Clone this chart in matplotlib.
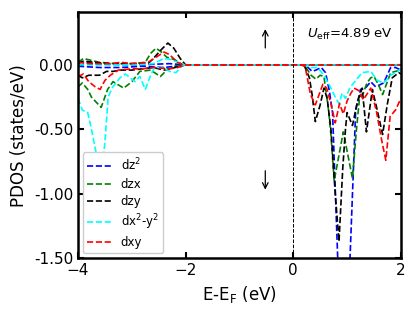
import matplotlib
matplotlib.use("Agg")
import matplotlib.pyplot as plt

# ---- spin-up channel (positive) ----
dz2_up_e = [-4.0, -3.9, -3.7, -3.4, -3.0, -2.6, -2.3, -2.0, 2.0]
dz2_up = [0.03, 0.02, 0.01, 0.005, 0.0, 0.005, 0.01, 0.0, 0.0]
dzx_up_e = [-4.0, -3.9, -3.8, -3.6, -3.3, -3.0, -2.75, -2.65, -2.55, -2.45, -2.35, -2.2, -2.05, 2.0]
dzx_up = [0.02, 0.05, 0.04, 0.02, 0.01, 0.01, 0.02, 0.09, 0.13, 0.10, 0.06, 0.04, 0.0, 0.0]
dzy_up_e = [-4.0, -3.9, -3.7, -3.4, -3.0, -2.7, -2.6, -2.45, -2.33, -2.22, -2.1, -2.0, 2.0]
dzy_up = [0.01, 0.03, 0.02, 0.01, 0.01, 0.01, 0.05, 0.12, 0.17, 0.13, 0.05, 0.0, 0.0]
dx2_up_e = [-4.0, -3.5, -3.0, -2.6, -2.4, -2.25, -2.1, -2.0, 2.0]
dx2_up = [0.0, 0.0, 0.0, 0.01, 0.05, 0.04, 0.01, 0.0, 0.0]
dxy_up_e = [-4.0, -3.8, -3.4, -3.2, -3.0, -2.7, -2.55, -2.4, -2.3, -2.15, -2.05, 2.0]
dxy_up = [0.02, 0.01, 0.01, 0.02, 0.01, 0.02, 0.06, 0.10, 0.08, 0.02, 0.0, 0.0]

# ---- spin-down channel (negative) ----
dz2_dn_e = [-4.0, -3.6, -3.2, -2.8, -2.4, -2.0, 0.2, 0.25, 0.35, 0.42, 0.52, 0.6, 0.67, 0.73,
            0.83, 0.95, 1.05, 1.16, 1.25, 1.34, 1.44, 1.53, 1.68, 1.81, 1.9, 2.0]
dz2_dn = [-0.01, -0.02, -0.02, -0.01, -0.02, 0.0, 0.0, -0.01, -0.05, -0.04, -0.02, -0.06, -0.2, -0.37,
          -1.55, -1.75, -1.55, -0.35, -0.19, -0.18, -0.13, -0.17, -0.14, -0.02, -0.02, -0.04]
dzx_dn_e = [-4.0, -3.92, -3.82, -3.75, -3.57, -3.45, -3.35, -3.15, -3.0, -2.85, -2.65, -2.47, -2.35,
            -2.2, -2.0, 0.15, 0.22, 0.33, 0.42, 0.5, 0.57, 0.65, 0.7, 0.76, 0.93, 1.1, 1.17, 1.23,
            1.3, 1.37, 1.44, 1.5, 1.58, 1.66, 1.74, 1.81, 1.9, 2.0]
dzx_dn = [-0.17, -0.14, -0.19, -0.25, -0.33, -0.19, -0.13, -0.18, -0.13, -0.05, -0.04, -0.09, -0.04,
          -0.01, 0.0, 0.0, -0.01, -0.08, -0.11, -0.08, -0.09, -0.33, -0.54, -0.9, -0.52, -0.88, -0.52,
          -0.26, -0.22, -0.14, -0.1, -0.09, -0.15, -0.23, -0.14, -0.06, -0.05, -0.04]
dzy_dn_e = [-4.0, -3.92, -3.8, -3.6, -3.47, -3.35, -3.2, -3.0, -2.8, -2.6, -2.4, -2.2, -2.0, 0.2,
            0.3, 0.35, 0.41, 0.5, 0.57, 0.63, 0.7, 0.78, 0.85, 0.92, 0.97, 1.0, 1.1, 1.19, 1.28,
            1.36, 1.47, 1.56, 1.66, 1.75, 1.84, 1.96, 2.0]
dzy_dn = [-0.08, -0.1, -0.08, -0.08, -0.05, -0.05, -0.04, -0.04, -0.03, -0.02, -0.04, -0.02, 0.0, 0.0,
          -0.1, -0.23, -0.44, -0.31, -0.18, -0.26, -0.5, -1.0, -1.37, -0.8, -0.5, -0.37, -0.47, -0.29,
          -0.18, -0.52, -0.19, -0.35, -0.54, -0.3, -0.1, -0.06, -0.07]
dx2_dn_e = [-4.0, -3.92, -3.82, -3.75, -3.57, -3.5, -3.44, -3.37, -3.22, -3.12, -3.03, -2.94, -2.85,
            -2.75, -2.65, -2.58, -2.42, -2.3, -2.18, -2.05, 0.2, 0.33, 0.45, 0.57, 0.7, 0.78, 0.85,
            0.91, 0.97, 1.05, 1.16, 1.28, 1.44, 1.56, 1.68, 1.81, 1.94, 2.0]
dx2_dn = [-0.26, -0.35, -0.37, -0.5, -0.88, -0.6, -0.25, -0.18, -0.1, -0.07, -0.1, -0.13, -0.09,
          -0.19, -0.08, -0.02, -0.02, -0.05, -0.06, 0.0, 0.0, -0.02, -0.02, -0.08, -0.18, -0.25, -0.3,
          -0.22, -0.26, -0.18, -0.12, -0.06, -0.05, -0.12, -0.14, -0.08, -0.05, -0.03]
dxy_dn_e = [-4.0, -3.9, -3.8, -3.68, -3.59, -3.5, -3.4, -3.25, -3.0, -2.8, -2.6, -2.3, -2.15, -2.0,
            0.15, 0.22, 0.32, 0.41, 0.48, 0.55, 0.62, 0.7, 0.78, 0.86, 0.93, 1.0, 1.07, 1.13, 1.22,
            1.3, 1.38, 1.44, 1.55, 1.65, 1.72, 1.8, 1.9, 2.0]
dxy_dn = [-0.09, -0.07, -0.13, -0.17, -0.19, -0.12, -0.08, -0.04, -0.03, -0.03, -0.02, -0.03, -0.02, 0.0,
          0.0, -0.01, -0.23, -0.31, -0.23, -0.15, -0.18, -0.3, -0.45, -0.3, -0.38, -0.28, -0.22, -0.18,
          -0.2, -0.27, -0.22, -0.18, -0.37, -0.6, -0.74, -0.4, -0.35, -0.26]

labels = ["dz$^2$", "dzx", "dzy", "dx$^2$-y$^2$", "dxy"]
colors = ["blue", "green", "black", "cyan", "red"]
ups = [(dz2_up_e, dz2_up), (dzx_up_e, dzx_up), (dzy_up_e, dzy_up), (dx2_up_e, dx2_up), (dxy_up_e, dxy_up)]
dns = [(dz2_dn_e, dz2_dn), (dzx_dn_e, dzx_dn), (dzy_dn_e, dzy_dn), (dx2_dn_e, dx2_dn), (dxy_dn_e, dxy_dn)]

fig = plt.figure(figsize=(4.15, 3.11), dpi=100)
ax = fig.add_axes([0.188, 0.170, 0.778, 0.791])

for (eu, yu), (ed, yd), lab, col in zip(ups, dns, labels, colors):
    ax.plot(ed, yd, "--", color=col, lw=1.2, label=lab)
    ax.plot(eu, yu, "--", color=col, lw=1.2)

ax.axvline(0, color="black", ls="--", lw=0.7)

# spin arrows
ax.annotate("", xy=(-0.52, 0.30), xytext=(-0.52, 0.11),
            arrowprops=dict(arrowstyle="->", color="black", lw=0.9))
ax.annotate("", xy=(-0.52, -0.99), xytext=(-0.52, -0.80),
            arrowprops=dict(arrowstyle="->", color="black", lw=0.9))
ax.text(0.975, 0.91, "$U_\\mathrm{eff}$=4.89 eV", transform=ax.transAxes,
        ha="right", va="center", fontsize=9.5)

ax.set_xlim(-4, 2)
ax.set_ylim(-1.5, 0.41)
ax.set_xticks([-4, -2, 0, 2])
ax.set_yticks([0.0, -0.5, -1.0, -1.5])
ax.set_yticklabels(["0.00", "-0.50", "-1.00", "-1.50"])
ax.tick_params(direction="in", top=True, right=True, labelsize=11, width=1.5, length=4)
for sp in ax.spines.values():
    sp.set_linewidth(1.8)

ax.set_xlabel("E-E$_\\mathrm{F}$ (eV)", fontsize=12)
ax.set_ylabel("PDOS (states/eV)", fontsize=12)
ax.legend(loc="lower left", fontsize=8.5, labelspacing=0.35, handlelength=2.0,
          borderaxespad=0.4, framealpha=1.0)

fig.savefig("out.png", dpi=100)
